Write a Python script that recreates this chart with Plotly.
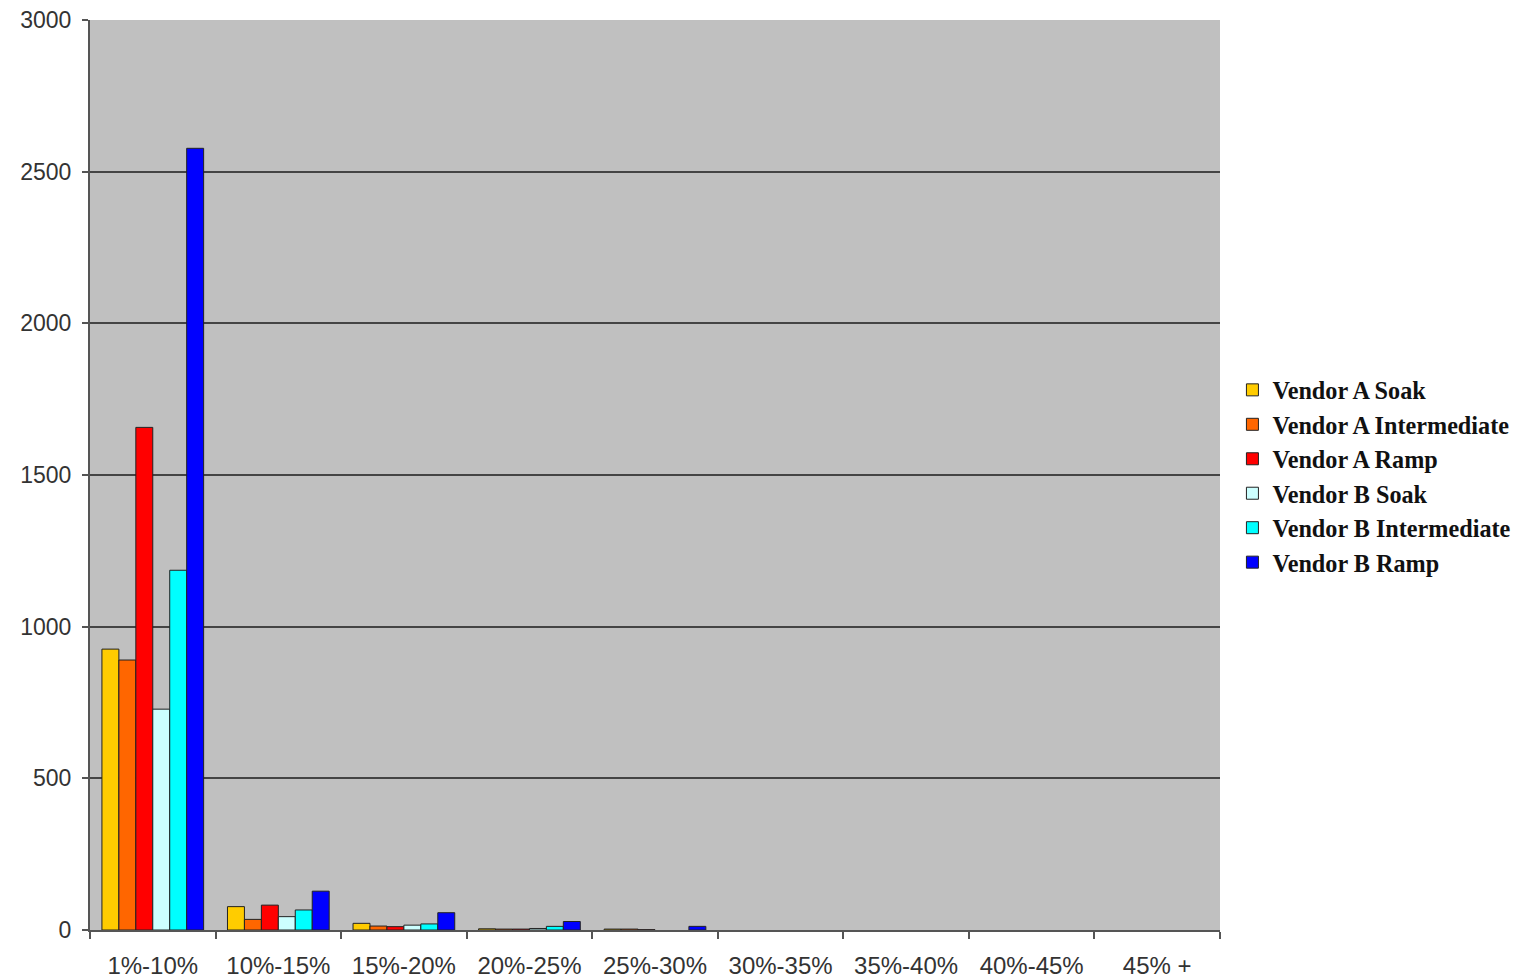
import plotly.graph_objects as go

categories = ["1%-10%", "10%-15%", "15%-20%", "20%-25%", "25%-30%",
              "30%-35%", "35%-40%", "40%-45%", "45% +"]
series_names = ["Vendor A Soak", "Vendor A Intermediate", "Vendor A Ramp",
                "Vendor B Soak", "Vendor B Intermediate", "Vendor B Ramp"]
vendor_a_soak = [926, 77, 22, 4, 3, 0, 0, 0, 0]
vendor_a_intermediate = [890, 35, 13, 3, 3, 0, 0, 0, 0]
vendor_a_ramp = [1657, 82, 11, 3, 1, 0, 0, 0, 0]
vendor_b_soak = [728, 44, 16, 5, 0, 0, 0, 0, 0]
vendor_b_intermediate = [1186, 66, 20, 12, 0, 0, 0, 0, 0]
vendor_b_ramp = [2577, 128, 57, 28, 12, 0, 0, 0, 0]
colors = ["#FFCC00", "#FF6600", "#FF0000", "#CCFFFF", "#00FFFF", "#0000FF"]

all_series = [vendor_a_soak, vendor_a_intermediate, vendor_a_ramp,
              vendor_b_soak, vendor_b_intermediate, vendor_b_ramp]

fig = go.Figure()
for name, vals, col in zip(series_names, all_series, colors):
    fig.add_trace(go.Bar(
        x=categories, y=vals, name=name,
        marker=dict(color=col,
                    line=dict(color="#222222",
                              width=[1 if v > 0 else 0 for v in vals])),
    ))

fig.update_layout(
    width=1531, height=980,
    margin=dict(l=90, r=311, t=20, b=50),
    paper_bgcolor="white",
    plot_bgcolor="#C0C0C0",
    barmode="group",
    bargap=0.19,
    bargroupgap=0,
    font=dict(family="Arial, Liberation Sans, sans-serif", size=22, color="#333333"),
    legend=dict(
        x=1.011, y=0.618, xanchor="left", yanchor="top",
        font=dict(family="Liberation Serif, Times New Roman, serif", size=24.2, color="#111111", weight="bold"),
        bgcolor="rgba(0,0,0,0)",
        itemclick=False,
    ),
    showlegend=True,
)
fig.update_xaxes(
    type="category", automargin=False,
    showline=True, linecolor="#555555", linewidth=2,
    ticks="outside", tickson="boundaries", ticklen=7, tickcolor="#555555", tickwidth=2,
    showgrid=False, ticklabelstandoff=13,
    tickfont=dict(size=24, color="#333333"),
)
fig.update_yaxes(
    range=[0, 3000], dtick=500, automargin=False,
    showline=True, linecolor="#555555", linewidth=2,
    ticks="outside", ticklen=6, tickcolor="#555555", tickwidth=2,
    showgrid=True, gridcolor="#444444", gridwidth=2,
    zeroline=False, ticklabelstandoff=6,
    tickfont=dict(size=23, color="#333333"),
)

fig.write_html("out.html")
